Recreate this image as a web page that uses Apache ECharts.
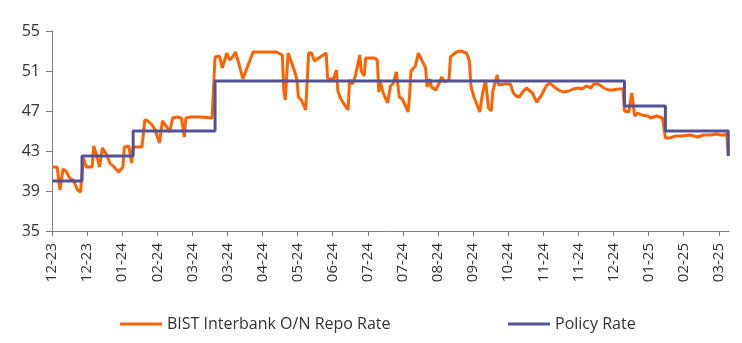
<!DOCTYPE html>
<html>
<head>
<meta charset="utf-8">
<script src="https://cdn.jsdelivr.net/npm/echarts@6/dist/echarts.min.js"></script>
<style>
html,body{margin:0;padding:0;background:#fff;}
#chart{width:742px;height:343px;}
</style>
</head>
<body>
<div id="chart"></div>
<script>
// ---- Data ----
const seriesNames = ['BIST Interbank O/N Repo Rate', 'Policy Rate'];

const tickLabels = ['12-23','12-23','01-24','02-24','03-24','03-24','04-24','05-24','06-24','07-24',
                    '07-24','08-24','09-24','10-24','11-24','11-24','12-24','01-25','02-25','03-25'];

const repoRate = [
  ['2023-12-01',41.4],['2023-12-04',41.4],['2023-12-06',39.1],['2023-12-08',41.2],['2023-12-10',41.0],
  ['2023-12-13',40.2],['2023-12-15',40.1],['2023-12-18',39.1],['2023-12-20',38.9],['2023-12-21',38.9],
  ['2023-12-22',42.3],['2023-12-24',41.4],['2023-12-28',41.4],['2023-12-29',43.5],['2023-12-31',42.6],
  ['2024-01-02',41.4],['2024-01-04',43.3],['2024-01-07',42.6],['2024-01-09',41.8],['2024-01-12',41.4],
  ['2024-01-15',40.9],['2024-01-18',41.4],['2024-01-19',43.4],['2024-01-22',43.5],['2024-01-23',43.3],
  ['2024-01-24',41.8],['2024-01-25',43.4],['2024-01-31',43.4],['2024-02-02',46.1],['2024-02-04',46.0],
  ['2024-02-07',45.6],['2024-02-09',45.1],['2024-02-12',43.8],['2024-02-14',46.0],['2024-02-17',45.4],
  ['2024-02-19',44.9],['2024-02-21',46.3],['2024-02-24',46.4],['2024-02-27',46.3],['2024-02-29',44.4],
  ['2024-03-01',46.3],['2024-03-04',46.4],['2024-03-11',46.4],['2024-03-19',46.3],['2024-03-20',46.5],
  ['2024-03-21',52.4],['2024-03-24',52.5],['2024-03-26',51.3],['2024-03-29',52.8],['2024-03-31',52.1],
  ['2024-04-02',52.4],['2024-04-04',52.9],['2024-04-06',51.9],['2024-04-09',50.2],['2024-04-16',52.9],
  ['2024-05-02',52.9],['2024-05-06',52.6],['2024-05-07',49.1],['2024-05-08',48.1],['2024-05-10',52.8],
  ['2024-05-12',52.0],['2024-05-15',50.7],['2024-05-16',50.1],['2024-05-17',48.4],['2024-05-19',48.1],
  ['2024-05-22',47.1],['2024-05-24',52.8],['2024-05-26',52.8],['2024-05-28',52.0],['2024-06-05',52.8],
  ['2024-06-06',50.2],['2024-06-10',50.2],['2024-06-12',51.1],['2024-06-13',49.0],['2024-06-15',48.2],
  ['2024-06-20',47.1],['2024-06-21',50.1],['2024-06-23',49.7],['2024-06-25',50.5],['2024-06-26',50.4],
  ['2024-06-28',52.6],['2024-06-29',51.0],['2024-07-01',50.5],['2024-07-02',52.3],['2024-07-08',52.3],
  ['2024-07-10',52.1],['2024-07-11',48.9],['2024-07-12',49.9],['2024-07-14',48.8],['2024-07-17',47.8],
  ['2024-07-19',49.5],['2024-07-21',49.8],['2024-07-23',50.9],['2024-07-24',50.8],['2024-07-25',48.4],
  ['2024-07-27',48.2],['2024-07-29',47.6],['2024-07-31',46.9],['2024-08-01',48.4],['2024-08-02',51.0],
  ['2024-08-05',51.5],['2024-08-07',52.8],['2024-08-08',52.8],['2024-08-12',51.3],['2024-08-13',49.4],
  ['2024-08-15',50.2],['2024-08-16',49.4],['2024-08-19',49.1],['2024-08-21',49.7],['2024-08-23',50.4],
  ['2024-08-25',49.9],['2024-08-26',49.7],['2024-08-28',50.1],['2024-08-29',52.4],['2024-09-02',52.9],
  ['2024-09-05',53.0],['2024-09-09',52.8],['2024-09-11',52.0],['2024-09-12',49.5],['2024-09-14',48.4],
  ['2024-09-16',47.7],['2024-09-18',46.9],['2024-09-20',48.8],['2024-09-22',50.1],['2024-09-24',47.3],
  ['2024-09-26',47.0],['2024-09-27',49.0],['2024-09-30',50.6],['2024-10-01',49.6],['2024-10-05',49.7],
  ['2024-10-09',49.7],['2024-10-11',48.8],['2024-10-13',48.5],['2024-10-15',48.4],['2024-10-18',49.0],
  ['2024-10-20',49.3],['2024-10-21',49.1],['2024-10-24',48.8],['2024-10-27',47.9],['2024-10-30',48.5],
  ['2024-11-01',49.1],['2024-11-03',49.6],['2024-11-05',49.8],['2024-11-08',49.4],['2024-11-11',49.1],
  ['2024-11-14',48.9],['2024-11-18',49.0],['2024-11-21',49.2],['2024-11-25',49.3],['2024-11-27',49.2],
  ['2024-11-30',49.5],['2024-12-03',49.3],['2024-12-05',49.7],['2024-12-08',49.7],['2024-12-09',49.9],
  ['2024-12-12',49.3],['2024-12-15',49.1],['2024-12-18',49.1],['2024-12-22',49.2],['2024-12-25',49.2],
  ['2024-12-26',47.0],['2024-12-29',46.9],['2024-12-30',46.9],['2024-12-31',48.8],['2025-01-02',46.5],
  ['2025-01-04',46.8],['2025-01-07',46.6],['2025-01-11',46.5],['2025-01-13',46.3],['2025-01-15',46.4],
  ['2025-01-17',46.5],['2025-01-21',46.3],['2025-01-22',46.1],['2025-01-23',44.3],['2025-01-26',44.3],
  ['2025-01-30',44.5],['2025-02-03',44.5],['2025-02-09',44.6],['2025-02-14',44.4],['2025-02-18',44.6],
  ['2025-02-23',44.6],['2025-02-27',44.7],['2025-03-02',44.6],['2025-03-04',44.6],['2025-03-06',44.7],
  ['2025-03-07',42.6]
];

const policyRate = [
  ['2023-12-01',40],['2023-12-21',42.5],['2024-01-25',45],['2024-03-21',50],
  ['2024-12-26',47.5],['2025-01-23',45],['2025-03-07',42.5]
];

const startDate = '2023-12-01';
const endDate = '2025-03-08';
const tickStepDays = 24;

// ---- Helpers ----
function dayIndex(s) {
  const a = s.split('-').map(Number), b = startDate.split('-').map(Number);
  return (Date.UTC(a[0], a[1]-1, a[2]) - Date.UTC(b[0], b[1]-1, b[2])) / 86400000;
}
const xOf = s => dayIndex(s) + 0.5; // points sit mid-day
const tickValues = tickLabels.map((_, i) => i * tickStepDays);

const chart = echarts.init(document.getElementById('chart'), null, {renderer: 'canvas'});
const FONT = 'Open Sans';
const axisGray = '#808080';
const textColor = '#333333';

chart.setOption({
  animation: false,
  backgroundColor: '#ffffff',
  grid: {left: 52, right: 13, top: 31, bottom: 112, containLabel: false},
  legend: [
    {
      data: [seriesNames[0]], left: 115, top: 311,
      icon: 'rect', itemWidth: 42, itemHeight: 3,
      textStyle: {fontFamily: FONT, fontSize: 16, color: textColor}
    },
    {
      data: [seriesNames[1]], left: 503, top: 311,
      icon: 'rect', itemWidth: 42, itemHeight: 3,
      textStyle: {fontFamily: FONT, fontSize: 16, color: textColor}
    }
  ],
  xAxis: {
    type: 'value',
    min: 0,
    max: dayIndex(endDate),
    splitLine: {show: false},
    axisLine: {show: true, lineStyle: {color: axisGray, width: 1}},
    axisTick: {show: true, length: 5, lineStyle: {color: axisGray}, customValues: tickValues},
    axisLabel: {
      customValues: tickValues,
      rotate: 90, margin: 12,
      fontFamily: FONT, fontSize: 15, color: textColor,
      formatter: v => tickLabels[Math.round(v / tickStepDays)] || ''
    }
  },
  yAxis: {
    type: 'value',
    min: 35, max: 55, interval: 4,
    splitLine: {show: false},
    axisLine: {show: true, lineStyle: {color: axisGray, width: 1}},
    axisTick: {show: true, length: 6, lineStyle: {color: axisGray}},
    axisLabel: {margin: 12, fontFamily: FONT, fontSize: 16, color: textColor}
  },
  series: [
    {
      name: seriesNames[0],
      type: 'line',
      data: repoRate.map(d => [xOf(d[0]), d[1]]),
      showSymbol: false, symbol: 'none',
      lineStyle: {color: '#FF6200', width: 3},
      itemStyle: {color: '#FF6200'},
      z: 2
    },
    {
      name: seriesNames[1],
      type: 'line',
      step: 'end',
      data: policyRate.map(d => [xOf(d[0]), d[1]]),
      showSymbol: false, symbol: 'none',
      lineStyle: {color: '#525199', width: 3},
      itemStyle: {color: '#525199'},
      z: 3
    }
  ]
});
</script>
</body>
</html>
